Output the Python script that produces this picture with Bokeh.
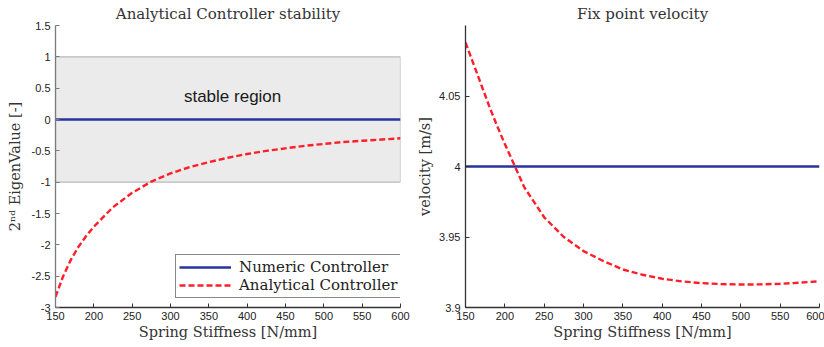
from bokeh.plotting import figure
from bokeh.layouts import row
from bokeh.models import Range1d, FixedTicker, Legend, LegendItem, Label
from bokeh.embed import file_html
from bokeh.resources import INLINE

# ---------------- data ----------------
stiffness = [150, 160, 170, 180, 190, 200, 225, 250, 275, 300, 325, 350, 375,
             400, 425, 450, 475, 500, 525, 550, 575, 600]

eig_numeric = [0, 0, 0, 0, 0, 0, 0, 0, 0, 0, 0, 0, 0,
               0, 0, 0, 0, 0, 0, 0, 0, 0]
eig_analytical = [-2.83, -2.50, -2.24, -2.03, -1.86, -1.71, -1.40, -1.17, -0.99,
                  -0.86, -0.76, -0.68, -0.61, -0.55, -0.50, -0.46, -0.42, -0.39,
                  -0.36, -0.34, -0.32, -0.30]

vel_numeric = [4.0, 4.0, 4.0, 4.0, 4.0, 4.0, 4.0, 4.0, 4.0, 4.0, 4.0, 4.0, 4.0,
               4.0, 4.0, 4.0, 4.0, 4.0, 4.0, 4.0, 4.0, 4.0]
vel_analytical = [4.088, 4.073, 4.058, 4.043, 4.029, 4.016, 3.985, 3.964, 3.950,
                  3.940, 3.933, 3.927, 3.9232, 3.9204, 3.9185, 3.9173, 3.9166,
                  3.9163, 3.9164, 3.9168, 3.9176, 3.9186]

region_x = [150, 600]
region_y = [-1, 1]
region_label = "stable region"
region_label_pos = (381, 0.37)

x_ticks = [150, 200, 250, 300, 350, 400, 450, 500, 550, 600]
x_tick_labels = ["150", "200", "250", "300", "350", "400", "450", "500", "550", "600"]
eig_ticks = [-3, -2.5, -2, -1.5, -1, -0.5, 0, 0.5, 1, 1.5]
eig_tick_labels = ["-3", "-2.5", "-2", "-1.5", "-1", "-0.5", "0", "0.5", "1", "1.5"]
vel_ticks = [3.9, 3.95, 4.0, 4.05]
vel_tick_labels = ["3.9", "3.95", "4", "4.05"]

BLUE = "#27349a"
RED = "#ff1f2a"
SERIF = "DejaVu Serif"
SANS = "Liberation Sans"


def style(p, xt, xl, yt, yl, axis_color, ylab_standoff):
    p.title.text_font = SERIF
    p.title.text_font_size = "15px"
    p.title.text_font_style = "normal"
    p.title.text_color = "#333333"
    p.title.align = "center"
    p.title.standoff = 5
    p.title.offset = 0
    p.outline_line_color = None
    p.xgrid.visible = False
    p.ygrid.visible = False
    p.xaxis.ticker = FixedTicker(ticks=xt)
    p.xaxis.major_label_overrides = {float(t): l for t, l in zip(xt, xl)}
    p.yaxis.ticker = FixedTicker(ticks=yt)
    p.yaxis.major_label_overrides = {float(t): l for t, l in zip(yt, yl)}
    for ax, col in ((p.xaxis, "#333333"), (p.yaxis, axis_color)):
        ax.axis_line_color = col
        ax.axis_line_width = 1.3
        ax.major_tick_line_color = col
        ax.major_tick_in = 4
        ax.major_tick_out = 0
        ax.minor_tick_line_color = None
        ax.major_label_text_font = SANS
        ax.major_label_text_font_size = "11px"
        ax.major_label_text_color = "#222222"
        ax.axis_label_text_font = SERIF
        ax.axis_label_text_font_size = "14.5px"
        ax.axis_label_text_font_style = "normal"
        ax.axis_label_text_color = "#333333"
    p.xaxis.major_label_standoff = 4
    p.xaxis.axis_label_standoff = 1
    p.yaxis.major_label_standoff = 5
    p.yaxis.axis_label_standoff = ylab_standoff


# ---------------- left chart ----------------
p1 = figure(width=414, height=347, output_backend="svg", toolbar_location=None,
            title="Analytical Controller stability",
            x_range=Range1d(150, 600), y_range=Range1d(-3, 1.5),
            min_border_left=55, min_border_right=14, min_border_top=24,
            min_border_bottom=40,
            x_axis_label="Spring Stiffness [N/mm]",
            y_axis_label="2ⁿᵈ EigenValue [-]")
style(p1, x_ticks, x_tick_labels, eig_ticks, eig_tick_labels, "#7a7a7a", 6)

p1.quad(left=[region_x[0]], right=[region_x[1]], bottom=[region_y[0]], top=[region_y[1]],
        fill_color="#ebebeb", line_color="#b9b9b9", line_width=1.2)
p1.add_layout(Label(x=region_label_pos[0], y=region_label_pos[1], text=region_label,
                    text_align="center", text_baseline="middle",
                    text_font=SANS, text_font_size="17px", text_color="#1a1a1a"))

r_num = p1.line(stiffness, eig_numeric, line_color=BLUE, line_width=2.4)
r_ana = p1.line(stiffness, eig_analytical, line_color=RED, line_width=2.4,
                line_dash="6 3")

legend = Legend(items=[LegendItem(label="Numeric Controller", renderers=[r_num]),
                       LegendItem(label="Analytical Controller", renderers=[r_ana])],
                location=(120, 9), orientation="vertical",
                border_line_color="#111111", border_line_width=1.2,
                background_fill_color="white", background_fill_alpha=1,
                label_text_font=SERIF, label_text_font_size="15px",
                label_text_color="#222222",
                glyph_width=52, glyph_height=16, label_height=16,
                label_width=168,
                spacing=0, padding=3, margin=0, label_standoff=8)
p1.add_layout(legend, "center")

# ---------------- right chart ----------------
p2 = figure(width=410, height=347, output_backend="svg", toolbar_location=None,
            title="Fix point velocity",
            x_range=Range1d(150, 600), y_range=Range1d(3.9, 4.1),
            min_border_left=46, min_border_right=5, min_border_top=24,
            min_border_bottom=40,
            x_axis_label="Spring Stiffness [N/mm]",
            y_axis_label="velocity [m/s]")
style(p2, x_ticks, x_tick_labels, vel_ticks, vel_tick_labels, "#333333", 3)

p2.line(stiffness, vel_numeric, line_color=BLUE, line_width=2.4)
p2.line(stiffness, vel_analytical, line_color=RED, line_width=2.4, line_dash="6 3")

layout = row(p1, p2)
open("out.html", "w").write(file_html(layout, INLINE))
